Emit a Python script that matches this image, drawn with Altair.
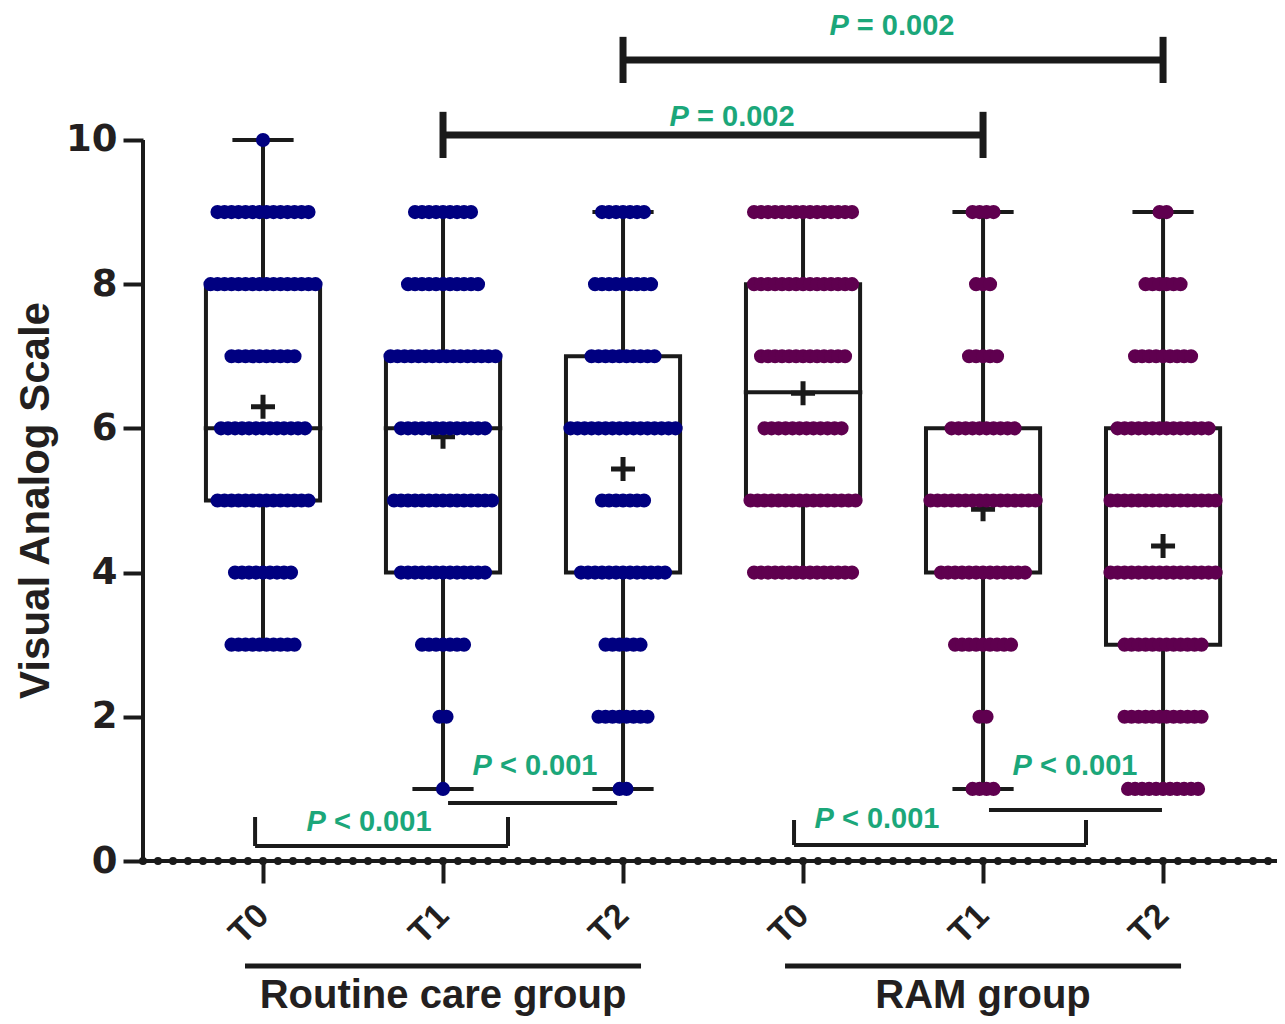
import altair as alt
import numpy as np
import pandas as pd

# ---------------- values ----------------
score_levels = [1, 2, 3, 4, 5, 6, 7, 8, 9, 10]
time_points = ["T0", "T1", "T2"]
group_labels = ["Routine care group", "RAM group"]
arm_codes = ["RC", "RC", "RC", "RAM", "RAM", "RAM"]

# number of patients at each VAS score (1..10)
rc_t0_counts = [0, 0, 10, 9, 14, 13, 10, 16, 14, 1]
rc_t1_counts = [1, 2, 7, 13, 15, 13, 16, 11, 9, 0]
rc_t2_counts = [2, 8, 6, 13, 7, 16, 10, 9, 7, 0]
ram_t0_counts = [0, 0, 0, 15, 16, 12, 13, 15, 15, 0]
ram_t1_counts = [4, 2, 9, 13, 16, 10, 5, 3, 4, 0]
ram_t2_counts = [11, 12, 12, 16, 16, 14, 9, 6, 2, 0]

y_ticks = [0, 2, 4, 6, 8, 10]
y_title = "Visual Analog Scale"

# significance comparisons (group positions 1..6)
top_from = [2, 3]
top_to = [5, 6]
top_text = ["P = 0.002", "P = 0.002"]
bottom_text = ["P < 0.001", "P < 0.001", "P < 0.001", "P < 0.001"]

# ---------------- layout (annotation placement) ----------------
X_MIN, X_MAX = 1 / 3, 6.633
Y_MAX = 11.83
W, H = 1134, 853
top_line_y = [10.07, 11.11]
top_cap = 0.32
top_label_x = [3.606, 4.494]
top_label_y = [10.32, 11.58]
bottom_x1 = [0.956, 2.028, 3.95, 5.033]
bottom_x2 = [2.361, 2.967, 5.572, 5.994]
bottom_line_y = [0.208, 0.804, 0.222, 0.707]
bottom_tick_top = [0.610, 0.804, 0.569, 0.707]
bottom_label_x = [1.589, 2.511, 4.411, 5.511]
bottom_label_y = [0.541, 1.318, 0.583, 1.318]

INK = "#1a1a1a"
GREEN = "#1ba77a"
NAVY = "#000080"
PURPLE = "#5f004f"
BOX_HALF = 0.317
CAP_HALF = 0.17
DOT_STEP = 7 / 180
P_FS = 29

# ---------------- derived tables ----------------
all_counts = [rc_t0_counts, rc_t1_counts, rc_t2_counts,
              ram_t0_counts, ram_t1_counts, ram_t2_counts]
positions = [1, 2, 3, 4, 5, 6]

pt_rows, st_rows, wh_rows, cap_rows = [], [], [], []
for pos, arm, counts in zip(positions, arm_codes, all_counts):
    vals = []
    for lvl, n in zip(score_levels, counts):
        vals += [lvl] * n
        for i in range(n):
            pt_rows.append({"x": pos + (i - (n - 1) / 2) * DOT_STEP, "v": lvl, "arm": arm})
    v = np.array(vals, dtype=float)
    q1, med, q3 = np.percentile(v, [25, 50, 75], method="weibull")
    lo, hi = v.min(), v.max()
    st_rows.append({"pos": pos, "l": pos - BOX_HALF, "r": pos + BOX_HALF,
                    "ml": pos - BOX_HALF - 0.012, "mr": pos + BOX_HALF + 0.012,
                    "q1": q1, "med": med, "q3": q3, "mean": v.mean()})
    wh_rows += [{"pos": pos, "a": lo, "b": q1}, {"pos": pos, "a": q3, "b": hi}]
    cap_rows += [{"l": pos - CAP_HALF, "r": pos + CAP_HALF, "y": lo},
                 {"l": pos - CAP_HALF, "r": pos + CAP_HALF, "y": hi}]

pts = pd.DataFrame(pt_rows)
stats = pd.DataFrame(st_rows)
whisk = pd.DataFrame(wh_rows)
caps = pd.DataFrame(cap_rows)

X = alt.Scale(domain=[X_MIN, X_MAX], nice=False, zero=False)
Y = alt.Scale(domain=[0, Y_MAX], nice=False, zero=False)

label_expr = "[" + ",".join("'%s'" % t for t in time_points) + "][(datum.value - 1) % 3]"
x_axis = alt.Axis(values=positions, labelExpr=label_expr, labelAngle=315, labelAlign="right",
                  labelBaseline="middle", labelPadding=27, tickSize=22, tickWidth=4,
                  tickColor=INK, domain=False, grid=False, labelFontSize=34,
                  labelFontWeight="bold", labelFont="Liberation Sans", labelColor="#231f20",
                  labelOverlap=False, labelFlush=False, title=None)
y_axis = alt.Axis(values=y_ticks, domain=False, grid=False, tickSize=20, tickWidth=4,
                  tickColor=INK, labelFont="DejaVu Sans", labelFontSize=37,
                  labelFontWeight="bold", labelColor="#231f20", labelPadding=6,
                  labelOverlap=False, title=None)


def xq(f):
    return alt.X(f, type="quantitative", scale=X, axis=x_axis)


def yq(f):
    return alt.Y(f, type="quantitative", scale=Y, axis=y_axis)


# axis lines
x_line = alt.Chart(pd.DataFrame({"a": [X_MIN], "b": [X_MAX], "y": [0]})).mark_rule(
    strokeWidth=4, color=INK).encode(x=xq("a"), x2="b:Q", y=yq("y"))
axis_dots = alt.Chart(pd.DataFrame({"x": 1 + np.arange(-8, 68) / 12, "y": 0})).transform_filter(
    (alt.datum.x >= X_MIN - 0.001) & (alt.datum.x <= X_MAX)).mark_circle(
    size=64, color=INK, opacity=1).encode(x=xq("x"), y=yq("y"))
y_line = alt.Chart(pd.DataFrame({"a": [0], "b": [10]})).mark_rule(
    strokeWidth=4, color=INK).encode(x=alt.value(0), y=yq("a"), y2="b:Q")

# box plot pieces
whiskers = alt.Chart(whisk).mark_rule(strokeWidth=4, color=INK).encode(
    x=xq("pos"), y=yq("a"), y2="b:Q")
cap_marks = alt.Chart(caps).mark_rule(strokeWidth=4, color=INK).encode(
    x=xq("l"), x2="r:Q", y=yq("y"))
boxes = alt.Chart(stats).mark_rect(fill="transparent", stroke=INK, strokeWidth=4).encode(
    x=xq("l"), x2="r:Q", y=yq("q1"), y2="q3:Q")
medians = alt.Chart(stats).mark_rule(strokeWidth=4, color=INK).encode(
    x=xq("ml"), x2="mr:Q", y=yq("med"))
means = alt.Chart(stats).mark_point(shape="M-1,0L1,0M0,-1L0,1", size=576, strokeWidth=5,
                                    filled=False, color=INK, opacity=1).encode(
    x=xq("pos"), y=yq("mean"))

dots = alt.Chart(pts).mark_circle(size=200, opacity=1).encode(
    x=xq("x"), y=yq("v"),
    color=alt.Color("arm:N", scale=alt.Scale(domain=["RC", "RAM"], range=[NAVY, PURPLE]),
                    legend=None))

# top brackets
top_df = pd.DataFrame({"x1": top_from, "x2": top_to, "y": top_line_y,
                       "ylo": [y - top_cap for y in top_line_y],
                       "yhi": [y + top_cap for y in top_line_y],
                       "tx": top_label_x, "ty": top_label_y,
                       "p": [t.split(" ", 1)[0] for t in top_text],
                       "rest": [t.split(" ", 1)[1] for t in top_text]})
top_h = alt.Chart(top_df).mark_rule(strokeWidth=7, color=INK).encode(
    x=xq("x1"), x2="x2:Q", y=yq("y"))
top_v1 = alt.Chart(top_df).mark_rule(strokeWidth=7, color=INK).encode(
    x=xq("x1"), y=yq("ylo"), y2="yhi:Q")
top_v2 = alt.Chart(top_df).mark_rule(strokeWidth=7, color=INK).encode(
    x=xq("x2"), y=yq("ylo"), y2="yhi:Q")

# bottom brackets
bot_df = pd.DataFrame({"x1": bottom_x1, "x2": bottom_x2, "y": bottom_line_y,
                       "yt": bottom_tick_top, "tx": bottom_label_x, "ty": bottom_label_y,
                       "p": [t.split(" ", 1)[0] for t in bottom_text],
                       "rest": [t.split(" ", 1)[1] for t in bottom_text]})
bot_h = alt.Chart(bot_df).mark_rule(strokeWidth=4, color=INK).encode(
    x=xq("x1"), x2="x2:Q", y=yq("y"))
bot_v1 = alt.Chart(bot_df).mark_rule(strokeWidth=4, color=INK).encode(
    x=xq("x1"), y=yq("y"), y2="yt:Q")
bot_v2 = alt.Chart(bot_df).mark_rule(strokeWidth=4, color=INK).encode(
    x=xq("x2"), y=yq("y"), y2="yt:Q")


def p_labels(df):
    p = alt.Chart(df).mark_text(font="Liberation Sans", fontSize=P_FS, fontWeight="bold",
                                fontStyle="italic", color=GREEN, align="left",
                                baseline="middle", dx=-2.155 * P_FS).encode(
        x=xq("tx"), y=yq("ty"), text="p:N")
    r = alt.Chart(df).mark_text(font="Liberation Sans", fontSize=P_FS, fontWeight="bold",
                                color=GREEN, align="left", baseline="middle",
                                dx=-1.21 * P_FS).encode(
        x=xq("tx"), y=yq("ty"), text="rest:N")
    return [p, r]


# group captions under the axis
grp_df = pd.DataFrame({"c": [2, 5], "l": [2 - 1.1, 5 - 1.1], "r": [2 + 1.1, 5 + 1.1],
                       "ly": [-1.456, -1.456], "ty": [-2.035, -2.035], "name": group_labels})
grp_lines = alt.Chart(grp_df).mark_rule(strokeWidth=5, color=INK).encode(
    x=xq("l"), x2="r:Q", y=yq("ly"))
grp_text = alt.Chart(grp_df).mark_text(font="Liberation Sans", fontSize=40, fontWeight="bold",
                                       color="#231f20", align="center",
                                       baseline="alphabetic").encode(
    x=xq("c"), y=yq("ty"), text="name:N")

ytitle = alt.Chart(pd.DataFrame({"t": [y_title], "y": [5]})).mark_text(
    font="Liberation Sans", fontSize=42, fontWeight="bold", color="#231f20", angle=270,
    align="center", baseline="middle").encode(x=alt.value(-107), y=yq("y"), text="t:N")

layers = [x_line, y_line, whiskers, cap_marks, boxes, medians, means, dots, axis_dots,
          top_h, top_v1, top_v2, bot_h, bot_v1, bot_v2] + p_labels(top_df) + p_labels(bot_df) + [
    grp_lines, grp_text, ytitle]

chart = alt.layer(*layers).properties(
    width=W, height=H,
    padding={"left": 135, "top": 0, "right": 0, "bottom": 155},
    autosize=alt.AutoSizeParams(type="none"),
    background="white",
).configure_view(stroke=None)

chart.save("out.html", embed_options={"renderer": "svg", "actions": False})
